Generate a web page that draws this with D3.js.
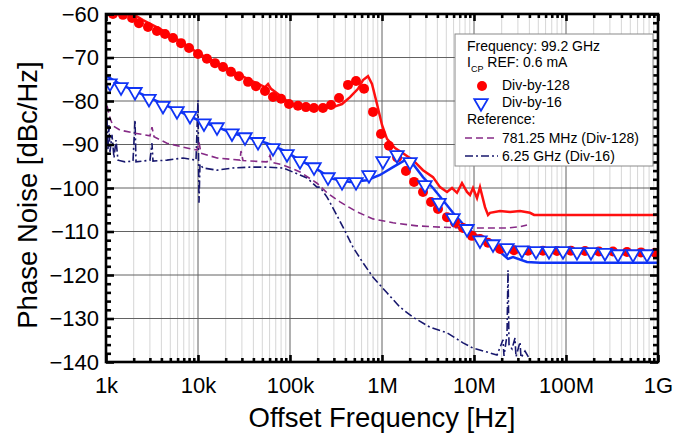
<!DOCTYPE html>
<html>
<head>
<meta charset="utf-8">
<script src="https://cdn.jsdelivr.net/npm/d3@7"></script>
<style>
  body { margin: 0; background: #fff; }
  text { font-family: "Liberation Sans", Arial, sans-serif; }
</style>
</head>
<body>
<div id="chart"></div>
<script>
// measured and reference phase noise, [offset Hz, dBc/Hz]
const div128Points = [[1.19e3,-60.0],[1.53e3,-60.2],[1.92e3,-60.9],[2.28e3,-62.1],[2.86e3,-63.0],[3.58e3,-63.9],[4.38e3,-64.6],[5.35e3,-65.5],[6.54e3,-66.7],[7.99e3,-67.8],[1.0e4,-69.2],[1.25e4,-70.3],[1.53e4,-71.3],[1.87e4,-72.2],[2.28e4,-73.3],[2.79e4,-74.3],[3.5e4,-75.6],[4.27e4,-76.6],[5.35e4,-77.7],[6.54e4,-79.1],[7.99e4,-79.5],[9.75e4,-80.7],[1.22e5,-81.1],[1.49e5,-81.4],[1.82e5,-81.6],[2.28e5,-81.6],[2.79e5,-80.9],[3.41e5,-79.3],[4.27e5,-76.3],[5.22e5,-75.4],[6.38e5,-77.2],[7.99e5,-82.5],[9.75e5,-87.6],[1.19e6,-90.3],[1.46e6,-93.0],[1.82e6,-96.1],[2.23e6,-98.6],[2.79e6,-100.9],[3.41e6,-103.2],[4.06e6,-104.8],[5.09e6,-106.7],[6.22e6,-108.0],[7.6e6,-109.2],[9.51e6,-111.0],[1.16e7,-111.7],[1.42e7,-112.6],[1.92e7,-114.0],[2.72e7,-114.3],[3.86e7,-114.4],[5.62e7,-114.4],[7.98e7,-114.5],[1.13e8,-114.4],[1.61e8,-114.5],[2.28e8,-114.6],[3.24e8,-114.6],[4.6e8,-114.7],[6.54e8,-114.8],[9.28e8,-114.9]];

const div16Points = [[1.105e3,-75.9],[1.456e3,-76.8],[2.067e3,-77.9],[2.934e3,-79.5],[4.165e3,-81.1],[5.911e3,-82.3],[8.185e3,-83.4],[1.162e4,-85.1],[1.609e4,-86.0],[2.342e4,-87.4],[3.243e4,-88.3],[4.49e4,-89.4],[6.535e4,-90.8],[9.28e4,-92.2],[1.285e5,-93.8],[1.824e5,-95.2],[2.588e5,-97.5],[3.675e5,-98.6],[5.218e5,-98.6],[7.222e5,-97.0],[1.025e6,-93.8],[1.455e6,-92.4],[2.015e6,-94.0],[2.934e6,-99.3],[4.165e6,-103.4],[5.911e6,-106.9],[8.393e6,-109.4],[1.162e7,-112.0],[1.609e7,-112.9],[2.284e7,-113.8],[3.324e7,-114.3],[4.72e7,-114.5],[6.535e7,-114.5],[9.28e7,-114.5],[1.317e8,-114.7],[1.869e8,-114.7],[2.654e8,-114.9],[3.675e8,-115.2],[5.35e8,-115.2],[7.595e8,-115.2]];

const div128Line = [[1e3,-60.0],[1.966e3,-60.0],[2.525e3,-61.4],[3.864e3,-63.4],[6.375e3,-66.2],[1e4,-69.0],[1.53e4,-71.0],[2.342e4,-73.1],[3.675e4,-75.2],[5.35e4,-76.8],[5.77e4,-76.1],[6.22e4,-77.2],[8.185e4,-79.1],[1e5,-80.5],[1.285e5,-81.1],[1.869e5,-81.6],[2.934e5,-81.4],[3.675e5,-80.7],[4.49e5,-79.1],[5.484e5,-77.2],[6.218e5,-75.2],[7.045e5,-74.3],[7.786e5,-76.1],[8.823e5,-80.7],[1e6,-85.5],[1.133e6,-88.7],[1.384e6,-90.8],[1.692e6,-92.0],[2.173e6,-93.6],[2.79e6,-95.9],[3.584e6,-97.5],[4.27e6,-99.8],[5.09e6,-100.9],[5.77e6,-100.0],[6.535e6,-101.1],[7.405e6,-98.9],[8.393e6,-100.9],[9.05e6,-101.6],[9.75e6,-100.0],[1.078e7,-102.3],[1.162e7,-99.8],[1.317e7,-104.4],[1.42e7,-106.2],[1.493e7,-105.7],[1.918e7,-105.3],[2.462e7,-105.5],[3.162e7,-105.3],[4.06e7,-105.7],[4.5e7,-106.2],[1e9,-106.2]];

const div16Line = [[1.025e3,-74.3],[1.42e3,-76.1],[1.966e3,-77.5],[3.008e3,-79.3],[4.603e3,-81.1],[6.87e3,-82.8],[1.051e4,-84.6],[1.609e4,-86.0],[2.401e4,-87.4],[3.675e4,-88.5],[5.623e4,-89.7],[8.393e4,-91.3],[1.285e5,-93.6],[1.778e5,-95.2],[2.119e5,-96.1],[2.525e5,-97.2],[2.934e5,-97.9],[4.49e5,-98.6],[6.871e5,-98.2],[9.51e5,-97.0],[1.317e6,-95.2],[1.778e6,-93.6],[2.173e6,-94.5],[2.79e6,-97.5],[3.584e6,-100.0],[4.603e6,-102.8],[5.911e6,-105.7],[7.6e6,-108.3],[9.75e6,-110.3],[1.384e7,-112.6],[1.918e7,-114.7],[2.342e7,-116.3],[2.654e7,-115.9],[3.768e7,-117.0],[5.218e7,-117.2],[1e9,-117.2]];

const ref781Line = [[1.025e3,-81.1],[1.105e3,-83.9],[1.19e3,-85.7],[1.42e3,-86.7],[2.067e3,-87.4],[3.008e3,-88.0],[3.162e3,-86.0],[3.325e3,-88.2],[4.603e3,-89.7],[6.87e3,-90.6],[9.75e3,-91.3],[1.025e4,-89.5],[1.078e4,-92.0],[1.609e4,-93.1],[2.86e4,-93.6],[2.934e4,-91.5],[3.084e4,-93.7],[5.623e4,-94.0],[6.06e4,-92.5],[6.3e4,-94.1],[8.393e4,-94.7],[1.285e5,-96.3],[1.966e5,-98.9],[2.525e5,-101.1],[3.495e5,-103.2],[5.35e5,-105.5],[7.985e5,-107.1],[1.317e6,-108.0],[2.401e6,-108.7],[4.27e6,-109.0],[8.393e6,-109.2],[1.384e7,-109.2],[2.284e7,-109.2],[3.162e7,-108.9],[3.768e7,-108.5]];

const ref625Line = [[1.025e3,-84.4],[1.051e3,-91.3],[1.078e3,-85.5],[1.105e3,-91.7],[1.162e3,-87.8],[1.222e3,-93.1],[1.284e3,-89.0],[1.35e3,-93.6],[1.609e3,-94.0],[1.966e3,-93.8],[2.067e3,-84.4],[2.119e3,-94.0],[3.008e3,-93.6],[3.162e3,-89.7],[3.242e3,-93.8],[4.603e3,-93.6],[6.87e3,-93.1],[9.512e3,-93.6],[1e4,-79.8],[1.025e4,-103.4],[1.051e4,-94.5],[1.133e4,-95.4],[1.609e4,-95.9],[2.401e4,-95.4],[3.675e4,-95.2],[5.623e4,-95.2],[8.393e4,-95.4],[1.285e5,-97.0],[1.53e5,-97.7],[1.966e5,-99.8],[2.119e5,-99.8],[2.525e5,-102.1],[2.934e5,-104.6],[3.768e5,-109.0],[4.839e5,-113.6],[6.218e5,-117.2],[7.985e5,-120.5],[1.133e6,-124.1],[1.569e6,-127.4],[2.173e6,-129.7],[3.324e6,-132.0],[5.09e6,-133.3],[7.6e6,-135.6],[9.75e6,-136.8],[1.384e7,-137.7],[1.778e7,-138.4],[2.067e7,-134.9],[2.119e7,-138.6],[2.284e7,-133.8],[2.342e7,-118.9],[2.401e7,-136.0],[2.588e7,-137.0],[2.791e7,-134.5],[2.86e7,-138.8],[3.162e7,-135.4],[3.242e7,-139.0],[3.584e7,-137.5],[4.06e7,-139.5]];

const xTickValues = [1e3, 1e4, 1e5, 1e6, 1e7, 1e8, 1e9];
const xTickLabels = ['1k', '10k', '100k', '1M', '10M', '100M', '1G'];
const yTickValues = [-140, -130, -120, -110, -100, -90, -80, -70, -60];

var width = 696, height = 434;
var pLeft = 106, pRight = 658, pTop = 14, pBottom = 362;

var svg = d3.select('#chart').append('svg')
    .attr('width', width)
    .attr('height', height);

var x = d3.scaleLog().domain([1e3, 1e9]).range([pLeft, pRight]);
var y = d3.scaleLinear().domain([-140, -60]).range([pBottom, pTop]);

var xMinor = x.ticks().filter(t => xTickValues.indexOf(t) < 0);
var yMinor = d3.range(-140, -59, 2).filter(t => t % 10 != 0);

// grid
var grid = svg.append('g');
grid.selectAll('.vminor').data(xMinor).enter().append('line')
    .attr('x1', d => x(d)).attr('x2', d => x(d))
    .attr('y1', pTop).attr('y2', pBottom)
    .attr('stroke', '#d6d6d6').attr('stroke-width', 1);
grid.selectAll('.vmajor').data(xTickValues.slice(1, -1)).enter().append('line')
    .attr('x1', d => x(d)).attr('x2', d => x(d))
    .attr('y1', pTop).attr('y2', pBottom)
    .attr('stroke', '#626262').attr('stroke-width', 1);
grid.selectAll('.hmajor').data(yTickValues.slice(1, -1)).enter().append('line')
    .attr('x1', pLeft).attr('x2', pRight)
    .attr('y1', d => y(d)).attr('y2', d => y(d))
    .attr('stroke', '#626262').attr('stroke-width', 1);

svg.append('clipPath').attr('id', 'plotclip')
    .append('rect').attr('x', pLeft).attr('y', pTop)
    .attr('width', pRight - pLeft).attr('height', pBottom - pTop);

var plot = svg.append('g').attr('clip-path', 'url(#plotclip)');

var line = d3.line().x(d => x(d[0])).y(d => y(d[1]));

// reference lines
plot.append('path').datum(ref625Line)
    .attr('d', line).attr('fill', 'none')
    .attr('stroke', '#18186e').attr('stroke-width', 1.6)
    .attr('stroke-dasharray', '8,3,2,3');
plot.append('path').datum(ref781Line)
    .attr('d', line).attr('fill', 'none')
    .attr('stroke', '#862a86').attr('stroke-width', 1.6)
    .attr('stroke-dasharray', '7,4');

// measured lines
plot.append('path').datum(div128Line)
    .attr('d', line).attr('fill', 'none')
    .attr('stroke', '#ff1010').attr('stroke-width', 2.5);
plot.append('path').datum(div16Line)
    .attr('d', line).attr('fill', 'none')
    .attr('stroke', '#1034f5').attr('stroke-width', 2.5);

// markers
plot.selectAll('.dot').data(div128Points).enter().append('circle')
    .attr('cx', d => x(d[0])).attr('cy', d => y(d[1]))
    .attr('r', 5).attr('fill', '#ff0000');

var tri = d3.symbol().type(d3.symbolTriangle).size(78);
plot.selectAll('.tri').data(div16Points).enter().append('path')
    .attr('d', tri)
    .attr('transform', d => 'translate(' + x(d[0]) + ',' + y(d[1]) + ') rotate(180)')
    .attr('fill', 'white').attr('stroke', '#1034f5').attr('stroke-width', 1.8);

// tick marks (inward, all four sides)
function tickAxis(axis, tr, size, values) {
    svg.append('g').attr('transform', tr)
        .call(axis.tickValues(values).tickSize(size).tickFormat(''))
        .call(g => g.select('.domain').remove())
        .selectAll('line').attr('stroke', '#000').attr('stroke-width', 2.6);
}
tickAxis(d3.axisBottom(x), 'translate(0,' + pBottom + ')', -7, xTickValues);
tickAxis(d3.axisBottom(x), 'translate(0,' + pBottom + ')', -4, xMinor);
tickAxis(d3.axisTop(x), 'translate(0,' + pTop + ')', -7, xTickValues);
tickAxis(d3.axisTop(x), 'translate(0,' + pTop + ')', -4, xMinor);
tickAxis(d3.axisLeft(y), 'translate(' + pLeft + ',0)', -8, yTickValues);
tickAxis(d3.axisLeft(y), 'translate(' + pLeft + ',0)', -5, yMinor);
tickAxis(d3.axisRight(y), 'translate(' + pRight + ',0)', -8, yTickValues);
tickAxis(d3.axisRight(y), 'translate(' + pRight + ',0)', -5, yMinor);

// labels
svg.append('g').attr('transform', 'translate(0,' + pBottom + ')')
    .call(d3.axisBottom(x).tickValues(xTickValues).tickSize(0).tickPadding(15)
        .tickFormat((d, i) => xTickLabels[i]))
    .call(g => g.select('.domain').remove())
    .selectAll('text').attr('font-size', 22).attr('fill', '#000')
    .style('font-family', '"Liberation Sans", Arial, sans-serif');

svg.append('g').attr('transform', 'translate(' + pLeft + ',0)')
    .call(d3.axisLeft(y).tickValues(yTickValues).tickSize(0).tickPadding(7))
    .call(g => g.select('.domain').remove())
    .selectAll('text').attr('font-size', 22).attr('fill', '#000')
    .style('font-family', '"Liberation Sans", Arial, sans-serif');

svg.append('rect')
    .attr('x', pLeft).attr('y', pTop)
    .attr('width', pRight - pLeft).attr('height', pBottom - pTop)
    .attr('fill', 'none').attr('stroke', '#000').attr('stroke-width', 2.6);

svg.append('text')
    .attr('x', (pLeft + pRight) / 2).attr('y', 427)
    .attr('text-anchor', 'middle').attr('font-size', 27.5)
    .text('Offset Frequency [Hz]');

svg.append('text')
    .attr('transform', 'translate(37,195) rotate(-90)')
    .attr('text-anchor', 'middle').attr('font-size', 27.5)
    .text('Phase Noise [dBc/Hz]');

// legend
var lg = svg.append('g');
lg.append('rect').attr('x', 455).attr('y', 34).attr('width', 198).attr('height', 132)
    .attr('fill', 'white').attr('stroke', '#8a8a8a').attr('stroke-width', 1);
lg.append('text').attr('x', 467).attr('y', 51).attr('font-size', 14).text('Frequency: 99.2 GHz');
var icp = lg.append('text').attr('x', 467).attr('y', 67).attr('font-size', 14);
icp.append('tspan').text('I');
icp.append('tspan').attr('font-size', 9).attr('dy', 5).text('CP');
icp.append('tspan').attr('dy', -5).text(' REF: 0.6 mA');
lg.append('circle').attr('cx', 482).attr('cy', 86).attr('r', 5).attr('fill', '#ff0000');
lg.append('text').attr('x', 502).attr('y', 90).attr('font-size', 14).text('Div-by-128');
lg.append('path').attr('d', tri)
    .attr('transform', 'translate(481,103) rotate(180)')
    .attr('fill', 'white').attr('stroke', '#1034f5').attr('stroke-width', 1.8);
lg.append('text').attr('x', 502).attr('y', 107).attr('font-size', 14).text('Div-by-16');
lg.append('text').attr('x', 467).attr('y', 124).attr('font-size', 14).text('Reference:');
lg.append('line').attr('x1', 465).attr('x2', 498).attr('y1', 138).attr('y2', 138)
    .attr('stroke', '#862a86').attr('stroke-width', 1.6).attr('stroke-dasharray', '7,4');
lg.append('text').attr('x', 502).attr('y', 143).attr('font-size', 14).text('781.25 MHz (Div-128)');
lg.append('line').attr('x1', 465).attr('x2', 498).attr('y1', 156).attr('y2', 156)
    .attr('stroke', '#18186e').attr('stroke-width', 1.6).attr('stroke-dasharray', '8,3,2,3');
lg.append('text').attr('x', 502).attr('y', 161).attr('font-size', 14).text('6.25 GHz (Div-16)');
</script>
</body>
</html>
